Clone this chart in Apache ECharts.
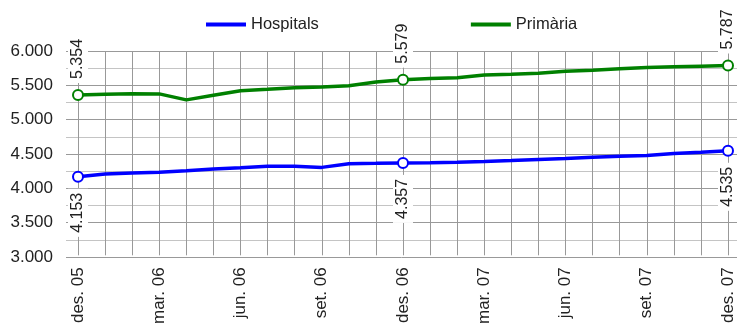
<!DOCTYPE html>
<html>
<head>
<meta charset="utf-8">
<script src="https://cdn.jsdelivr.net/npm/echarts@6/dist/echarts.min.js"></script>
<style>
  html, body { margin: 0; padding: 0; background: #fff; }
  #chart { width: 738px; height: 327px; }
</style>
</head>
<body>
<div id="chart"></div>
<script>
// Monthly series, Dec 2005 – Dec 2007
const months = ['des. 05','gen. 06','feb. 06','mar. 06','abr. 06','mai. 06','jun. 06','jul. 06','ago. 06','set. 06','oct. 06','nov. 06',
                'des. 06','gen. 07','feb. 07','mar. 07','abr. 07','mai. 07','jun. 07','jul. 07','ago. 07','set. 07','oct. 07','nov. 07','des. 07'];
const hospitals = [4153, 4194, 4208, 4219, 4242, 4267, 4286, 4306, 4306, 4291, 4344, 4350,
                   4357, 4360, 4365, 4378, 4392, 4407, 4421, 4441, 4455, 4465, 4495, 4514, 4535];
const primaria  = [5354, 5365, 5374, 5370, 5282, 5350, 5417, 5437, 5461, 5471, 5490, 5544,
                   5579, 5597, 5607, 5646, 5660, 5675, 5704, 5719, 5738, 5757, 5767, 5777, 5787];
const markedIdx = [0, 12, 24];
const yTicks = { min: 3000, max: 6000, step: 500 };

const FONT = 'Liberation Sans, Arial, sans-serif';
const fmt = v => String(Math.round(v)).replace(/\B(?=(\d{3})+(?!\d))/g, '.');

function buildData(values, color, below) {
  return values.map((v, i) => {
    if (markedIdx.indexOf(i) < 0) return { value: v, symbol: 'none', label: { show: false } };
    return {
      value: v,
      symbol: 'circle',
      symbolSize: 10,
      itemStyle: { color: '#fff', borderColor: color, borderWidth: 2 },
      label: {
        show: true,
        position: below ? 'bottom' : 'top',
        rotate: 90,
        align: below ? 'right' : 'left',
        verticalAlign: 'middle',
        distance: 6,
        padding: [2, 4],
        backgroundColor: '#fff',
        color: '#222',
        fontFamily: FONT,
        fontSize: 16,
        formatter: p => fmt(p.value)
      }
    };
  });
}

const chart = echarts.init(document.getElementById('chart'), null, { renderer: 'canvas' });
chart.setOption({
  animation: false,
  backgroundColor: '#fff',
  legend: {
    left: 201, top: 11,
    itemWidth: 40, itemHeight: 4, itemGap: 152,
    icon: 'rect',
    textStyle: { fontFamily: FONT, fontSize: 16.5, color: '#222' },
    data: ['Hospitals', 'Primària']
  },
  grid: [
    { left: 66, right: 1, top: 51, bottom: 70 },
    { left: 78, right: 10, top: 51, bottom: 70 }
  ],
  xAxis: [
    { gridIndex: 0, type: 'value', show: false, min: 0, max: 1 },
    {
      gridIndex: 1, type: 'category', boundaryGap: false, data: months,
      axisLine: { show: false }, axisTick: { show: false },
      axisLabel: { interval: 2, rotate: 90, margin: 12, fontFamily: FONT, fontSize: 17, color: '#222' },
      splitLine: { show: true, interval: 0, lineStyle: { color: '#999', width: 1 } }
    }
  ],
  yAxis: [
    {
      gridIndex: 0, type: 'value', min: yTicks.min, max: yTicks.max, interval: yTicks.step,
      axisLine: { show: false }, axisTick: { show: false },
      axisLabel: { margin: 13, fontFamily: FONT, fontSize: 17, color: '#222', formatter: v => fmt(v) },
      splitLine: { show: true, lineStyle: { color: '#999', width: 1 } },
      minorTick: { show: false, splitNumber: 2 },
      minorSplitLine: { show: true, lineStyle: { color: '#c4c4c4', width: 1 } }
    },
    { gridIndex: 1, type: 'value', min: yTicks.min, max: yTicks.max, show: false, splitLine: { show: false } }
  ],
  series: [
    {
      name: 'Hospitals', type: 'line', xAxisIndex: 1, yAxisIndex: 1,
      color: '#0000ff',
      lineStyle: { width: 3.5, color: '#0000ff' },
      showAllSymbol: true,
      data: buildData(hospitals, '#0000ff', true),
      z: 3
    },
    {
      name: 'Primària', type: 'line', xAxisIndex: 1, yAxisIndex: 1,
      color: '#008000',
      lineStyle: { width: 3.5, color: '#008000' },
      showAllSymbol: true,
      data: buildData(primaria, '#008000', false),
      z: 3
    }
  ]
});
</script>
</body>
</html>
